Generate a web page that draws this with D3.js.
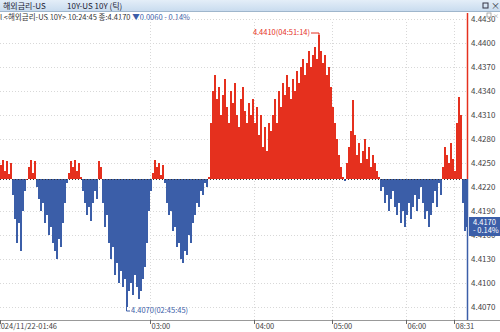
<!DOCTYPE html>
<html>
<head>
<meta charset="utf-8">
<script src="https://cdn.jsdelivr.net/npm/d3@7"></script>
<style>
  body { margin: 0; background: #fff; }
  svg { display: block; font-family: "Noto Sans CJK KR", "DejaVu Sans", sans-serif; }
</style>
</head>
<body>
<div class="chart"></div>
<script>
var width = 500, height = 332;

// tick prices (10Y US treasury), oldest first
var prices = [
  4.4248, 4.4254, 4.4240, 4.4252, 4.4236, 4.4250,
  4.4210, 4.4180, 4.4150, 4.4175, 4.4140,
  4.4190, 4.4215, 4.4230, 4.4245, 4.4254, 4.4238, 4.4252,
  4.4220, 4.4205, 4.4190, 4.4200, 4.4175, 4.4185, 4.4160, 4.4170, 4.4150,
  4.4140, 4.4130, 4.4155, 4.4145, 4.4175, 4.4200, 4.4225,
  4.4238, 4.4252, 4.4245, 4.4254, 4.4240, 4.4250, 4.4232,
  4.4215, 4.4200, 4.4185, 4.4195, 4.4178, 4.4200, 4.4215, 4.4205,
  4.4252, 4.4245,
  4.4200, 4.4170, 4.4185, 4.4150, 4.4130, 4.4145, 4.4110, 4.4125, 4.4100, 4.4115, 4.4095, 4.4105,
  4.4070,
  4.4090, 4.4100, 4.4085, 4.4110, 4.4095, 4.4080, 4.4090, 4.4105, 4.4120, 4.4150,
  4.4190, 4.4215, 4.4238, 4.4254, 4.4245, 4.4250, 4.4235, 4.4248, 4.4225,
  4.4200, 4.4185, 4.4190, 4.4165, 4.4170, 4.4145, 4.4150, 4.4130, 4.4125, 4.4140, 4.4135, 4.4160, 4.4150,
  4.4175, 4.4185, 4.4200, 4.4195, 4.4215, 4.4210, 4.4225, 4.4220, 4.4232,
  4.4300, 4.4340, 4.4360, 4.4330, 4.4345, 4.4310, 4.4335, 4.4355, 4.4320, 4.4300, 4.4340,
  4.4325, 4.4350, 4.4310, 4.4295, 4.4330, 4.4345, 4.4315, 4.4300, 4.4325, 4.4310,
  4.4330, 4.4300, 4.4320, 4.4285, 4.4310, 4.4270, 4.4295, 4.4265, 4.4300, 4.4290,
  4.4310, 4.4330, 4.4300, 4.4340, 4.4320, 4.4350, 4.4335, 4.4360, 4.4345, 4.4330,
  4.4355, 4.4340, 4.4365, 4.4350, 4.4370,
  4.4380, 4.4360, 4.4375, 4.4390, 4.4370, 4.4385, 4.4395, 4.4380, 4.4410, 4.4390,
  4.4375, 4.4385, 4.4360, 4.4370, 4.4345,
  4.4320, 4.4300, 4.4280, 4.4260, 4.4245, 4.4232, 4.4228,
  4.4250, 4.4270, 4.4290, 4.4329, 4.4285, 4.4260, 4.4275, 4.4250, 4.4265, 4.4280,
  4.4255, 4.4270, 4.4245, 4.4260, 4.4250, 4.4240,
  4.4232, 4.4215, 4.4220, 4.4200, 4.4210, 4.4190, 4.4205, 4.4215, 4.4195, 4.4185,
  4.4200, 4.4175, 4.4190, 4.4170, 4.4185, 4.4200, 4.4180, 4.4195, 4.4210, 4.4190,
  4.4205, 4.4220, 4.4200, 4.4180, 4.4190, 4.4170, 4.4185, 4.4200, 4.4215, 4.4195,
  4.4225, 4.4210,
  4.4245, 4.4270, 4.4260, 4.4250, 4.4275, 4.4255, 4.4240,
  4.4300, 4.4332, 4.4310,
  4.4200, 4.4165, 4.4170
];

var prevClose = 4.4230;
var yTicks = [4.4070, 4.4100, 4.4130, 4.4160, 4.4190, 4.4220, 4.4250, 4.4280, 4.4310, 4.4340, 4.4370, 4.4400, 4.4430];
var timeTickIndex = [0, 75, 127, 166, 203, 227];
var timeTickLabels = ["2024/11/22-01:46", "03:00", "04:00", "05:00", "06:00", "08:31"];
var highTime = "04:51:14", lowTime = "02:45:45";

var red = "#e5301e", blue = "#3b5ea8";
var plot = { left: 0, right: 466, top: 12, bottom: 320 };

var svg = d3.select(".chart").append("svg")
  .attr("width", width).attr("height", height);

var x = d3.scaleLinear().domain([0, prices.length - 1]).range([plot.left, plot.right]);
var y = d3.scaleLinear().domain([4.4070, 4.4430]).range([307, 19]);
var step = x(1) - x(0);

// header bar
var hdrGrad = svg.append("defs").append("linearGradient")
  .attr("id", "hdr").attr("x1", 0).attr("y1", 0).attr("x2", 0).attr("y2", 1);
hdrGrad.append("stop").attr("offset", 0).attr("stop-color", "#e4eef8");
hdrGrad.append("stop").attr("offset", 1).attr("stop-color", "#c9dcef");
svg.append("rect").attr("x", 0).attr("y", 0).attr("width", width).attr("height", 11)
  .attr("fill", "url(#hdr)");
svg.append("line").attr("x1", 0).attr("x2", width).attr("y1", 11.5).attr("y2", 11.5)
  .attr("stroke", "#9fb6cc");
svg.append("text").attr("x", 3).attr("y", 8.5).attr("font-size", 8).attr("fill", "#223")
  .text("해외금리-US");
svg.append("text").attr("x", 67).attr("y", 8.5).attr("font-size", 8).attr("fill", "#223")
  .text("10Y-US 10Y (틱)");
svg.append("rect").attr("x", 483).attr("y", 3).attr("width", 5).attr("height", 5)
  .attr("fill", "none").attr("stroke", "#334").attr("stroke-width", 1);
svg.append("text").attr("x", 491).attr("y", 9).attr("font-size", 9).attr("fill", "#334").text("×");

// info line
var info = svg.append("text").attr("x", 0).attr("y", 20).attr("font-size", 7.5).attr("fill", "#333");
info.append("tspan").text("l <해외금리-US 10Y> 10:24:45 종:4.4170 ");
info.append("tspan").attr("fill", blue).text("▼0.0060  - 0.14%");

// grid
var grid = svg.append("g").attr("stroke", "#d8d8d8").attr("stroke-dasharray", "1,2");
grid.selectAll("line.h").data(yTicks).enter().append("line")
  .attr("x1", plot.left).attr("x2", plot.right)
  .attr("y1", d => Math.round(y(d)) + 0.5).attr("y2", d => Math.round(y(d)) + 0.5);
grid.selectAll("line.v").data(timeTickIndex.slice(1)).enter().append("line")
  .attr("x1", d => Math.round(x(d)) + 0.5).attr("x2", d => Math.round(x(d)) + 0.5)
  .attr("y1", plot.top + 10).attr("y2", plot.bottom);

// bars from previous close to each tick price
var base = y(prevClose);
svg.append("g").selectAll("rect").data(prices).enter().append("rect")
  .attr("x", (d, i) => x(i))
  .attr("width", step)
  .attr("y", d => Math.min(y(d), base))
  .attr("height", d => Math.max(1, Math.abs(y(d) - base)))
  .attr("fill", d => d >= prevClose ? red : blue)
  .attr("shape-rendering", "crispEdges");

// previous close dotted line
svg.append("line").attr("x1", plot.left).attr("x2", plot.right)
  .attr("y1", Math.round(base) + 0.5).attr("y2", Math.round(base) + 0.5)
  .attr("stroke", "#333").attr("stroke-dasharray", "1,2");

// current price line
var cx = plot.right + 1.5;
svg.append("line").attr("x1", cx).attr("x2", cx).attr("y1", plot.top + 1).attr("y2", base)
  .attr("stroke", red).attr("stroke-width", 1.5);
svg.append("line").attr("x1", cx).attr("x2", cx).attr("y1", base).attr("y2", plot.bottom)
  .attr("stroke", blue).attr("stroke-width", 1.5);

// y axis labels on right
svg.append("g").selectAll("text").data(yTicks).enter().append("text")
  .attr("x", 471).attr("y", d => y(d) + 3)
  .attr("font-size", 8).attr("fill", "#444")
  .text(d => d3.format(".4f")(d));
svg.append("rect").attr("x", 487).attr("y", 13).attr("width", 4).attr("height", 4)
  .attr("fill", "#fff").attr("stroke", "#999").attr("stroke-width", 0.8);
svg.append("text").attr("x", 493).attr("y", 18).attr("font-size", 6).attr("fill", "#999").text("×");

// current price tag
var last = prices[prices.length - 1];
var chg = (last - prevClose) / prevClose * 100;
svg.append("rect").attr("x", 469).attr("y", y(last) - 10).attr("width", 31).attr("height", 19)
  .attr("fill", blue);
svg.append("text").attr("x", 473).attr("y", y(last) - 2).attr("font-size", 7.5).attr("fill", "#fff")
  .text(d3.format(".4f")(last));
svg.append("text").attr("x", 473).attr("y", y(last) + 6).attr("font-size", 7.5).attr("fill", "#fff")
  .text("- " + d3.format(".2f")(Math.abs(chg)) + "%");

// high / low markers
var hi = d3.maxIndex(prices), lo = d3.minIndex(prices);
svg.append("path")
  .attr("d", `M${x(hi) + 1},${y(prices[hi])} V${y(prices[hi]) - 2} H${x(hi) - 7}`)
  .attr("fill", "none").attr("stroke", red);
svg.append("text").attr("x", x(hi) - 8).attr("y", y(prices[hi]))
  .attr("text-anchor", "end").attr("font-size", 7.5).attr("fill", red)
  .text(d3.format(".4f")(prices[hi]) + "(" + highTime + ")");
svg.append("path")
  .attr("d", `M${x(lo) + 0.5},${y(prices[lo])} V${y(prices[lo]) + 4} H${x(lo) + 4}`)
  .attr("fill", "none").attr("stroke", blue);
svg.append("text").attr("x", x(lo) + 5).attr("y", y(prices[lo]) + 6)
  .attr("font-size", 7.5).attr("fill", blue)
  .text(d3.format(".4f")(prices[lo]) + "(" + lowTime + ")");

// x axis
svg.append("line").attr("x1", 0).attr("x2", width).attr("y1", plot.bottom + 0.5).attr("y2", plot.bottom + 0.5)
  .attr("stroke", "#999");
var xt = svg.append("g").selectAll("g").data(timeTickIndex).enter().append("g")
  .attr("transform", d => `translate(${Math.round(x(d)) + 0.5},${plot.bottom})`);
xt.append("line").attr("y1", 0).attr("y2", 4).attr("stroke", "#666");
xt.append("text").attr("x", (d, i) => i === 0 ? -4 : 1).attr("y", 9)
  .attr("font-size", 7.5).attr("fill", "#444")
  .text((d, i) => timeTickLabels[i]);
</script>
</body>
</html>
